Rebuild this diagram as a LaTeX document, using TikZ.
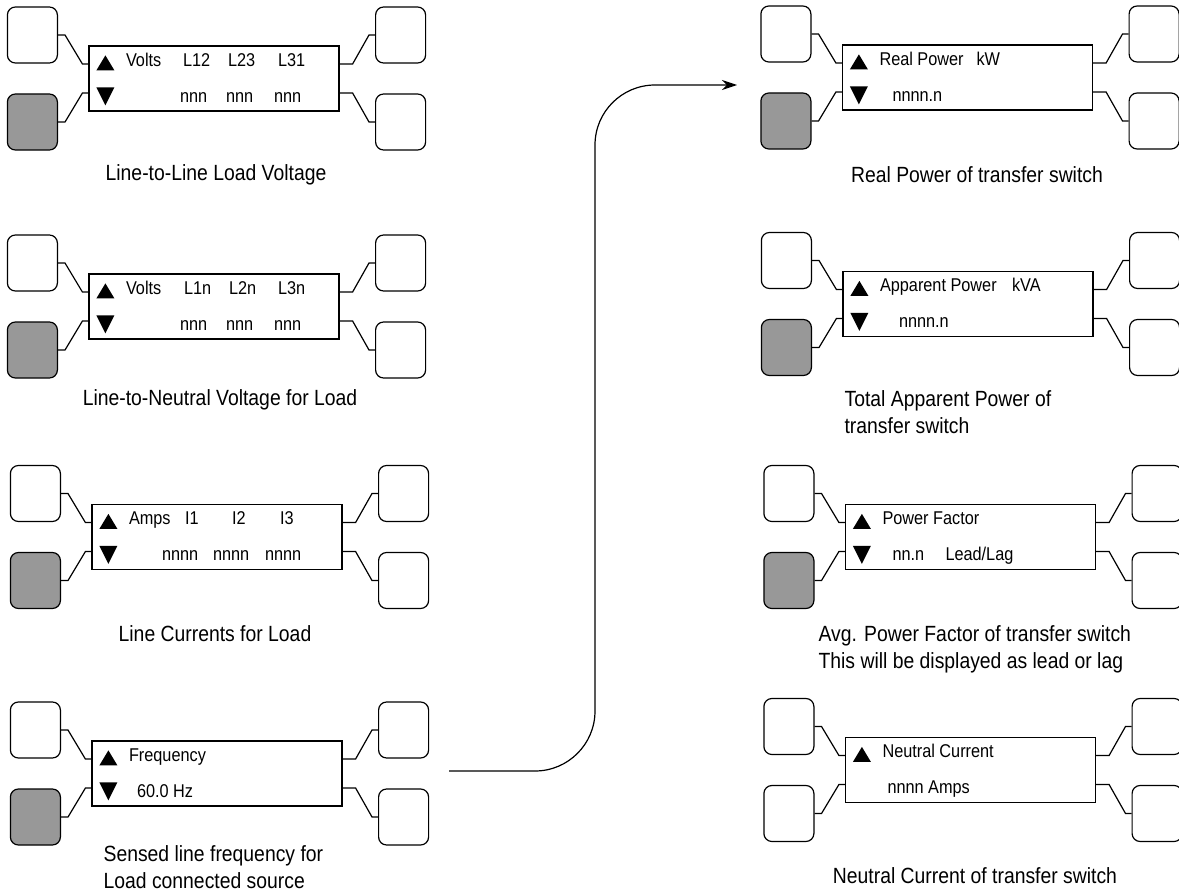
\documentclass[tikz,border=0pt]{standalone}
\usepackage{fontspec}
\setmainfont[FakeStretch=0.88]{Liberation Sans}
\usetikzlibrary{calc,arrows.meta}
\definecolor{keygrey}{RGB}{152,152,152}

% one display with its four soft keys
\newcommand\lcdpanel[3]{%
  \node[lcd] (#1) at (#2) {};
  \node[softkey] (#1tl) at ($(#1.west)+(-56,-43.5)$) {};
  \node[softkey,#3] (#1bl) at ($(#1.west)+(-56,43.5)$) {};
  \node[softkey] (#1tr) at ($(#1.east)+(61,-43.5)$) {};
  \node[softkey] (#1br) at ($(#1.east)+(61,43.5)$) {};
  \draw (#1tl.east) -- ++(7,0) -- ($(#1.west)+(-6,-14.5)$) -- ($(#1.west)+(0,-14.5)$);
  \draw (#1bl.east) -- ++(7,0) -- ($(#1.west)+(-6,14.5)$) -- ($(#1.west)+(0,14.5)$);
  \draw ($(#1.east)+(0,-14.5)$) -- ++(13,0) -- ($(#1tr.west)+(-6,0)$) -- (#1tr.west);
  \draw ($(#1.east)+(0,14.5)$) -- ++(13,0) -- ($(#1br.west)+(-6,0)$) -- (#1br.west);
  \fill ($(#1.north west)+(8,25)$) -- ++(18,0) -- ++(-9,-15) -- cycle;
}
\newcommand\downmark[1]{\fill ($(#1.north west)+(8,42)$) -- ++(18,0) -- ++(-9,18) -- cycle;}

\begin{document}
\begin{tikzpicture}[x=1pt,y=-1pt,line width=1.2pt,
    lcd/.style={draw,minimum width=250pt,minimum height=65pt,inner sep=0},
    softkey/.style={draw,rounded corners=8pt,minimum width=50pt,minimum height=56pt,inner sep=0},
    keyon/.style={fill=keygrey},
    lcdtext/.style={anchor=base west,inner sep=0,font=\fontsize{18.5}{20}\selectfont},
    caption/.style={anchor=base,inner sep=0,font=\fontsize{22}{27}\selectfont,align=left}]
  \useasboundingbox (0,0) rectangle (1179,891);

  % left column
  \lcdpanel{lv}{214,78.5}{keyon} \downmark{lv}
  \node[lcdtext] (lv1) at ($(lv.north west)+(37,21)$) {Volts};
  \node[lcdtext] (lv2) at ($(lv.north west)+(94,21)$) {L12};
  \node[lcdtext] (lv3) at ($(lv.north west)+(139,21)$) {L23};
  \node[lcdtext] (lv4) at ($(lv.north west)+(189,21)$) {L31};
  \node[lcdtext] (lv5) at ($(lv.north west)+(91,57)$) {nnn};
  \node[lcdtext] (lv6) at ($(lv.north west)+(137,57)$) {nnn};
  \node[lcdtext] (lv7) at ($(lv.north west)+(185,57)$) {nnn};
  \node[caption] (lvcap) at (216,180) {Line-to-Line Load Voltage};

  \lcdpanel{nv}{214,306.5}{keyon} \downmark{nv}
  \node[lcdtext] (nv1) at ($(nv.north west)+(37,21)$) {Volts};
  \node[lcdtext] (nv2) at ($(nv.north west)+(95,21)$) {L1n};
  \node[lcdtext] (nv3) at ($(nv.north west)+(140,21)$) {L2n};
  \node[lcdtext] (nv4) at ($(nv.north west)+(189,21)$) {L3n};
  \node[lcdtext] (nv5) at ($(nv.north west)+(91,57)$) {nnn};
  \node[lcdtext] (nv6) at ($(nv.north west)+(137,57)$) {nnn};
  \node[lcdtext] (nv7) at ($(nv.north west)+(185,57)$) {nnn};
  \node[caption] (nvcap) at (220,405) {Line-to-Neutral Voltage for Load};

  \lcdpanel{amps}{217,537}{keyon} \downmark{amps}
  \node[lcdtext] (amps1) at ($(amps.north west)+(37,21)$) {Amps};
  \node[lcdtext] (amps2) at ($(amps.north west)+(93,21)$) {I1};
  \node[lcdtext] (amps3) at ($(amps.north west)+(140,21)$) {I2};
  \node[lcdtext] (amps4) at ($(amps.north west)+(188,21)$) {I3};
  \node[lcdtext] (amps5) at ($(amps.north west)+(70,57)$) {nnnn};
  \node[lcdtext] (amps6) at ($(amps.north west)+(121,57)$) {nnnn};
  \node[lcdtext] (amps7) at ($(amps.north west)+(173,57)$) {nnnn};
  \node[caption] (ampscap) at (215,641) {Line Currents for Load};

  \lcdpanel{freq}{217,773.5}{keyon} \downmark{freq}
  \node[lcdtext] (freq1) at ($(freq.north west)+(37,21)$) {Frequency};
  \node[lcdtext] (freq2) at ($(freq.north west)+(45,57)$) {60.0 Hz};
  \node[caption,anchor=base west] (freqcap) at (103,888) {Sensed line frequency for\\Load connected source};

  % right column
  \lcdpanel{kw}{967.5,77.5}{keyon} \downmark{kw}
  \node[lcdtext] (kw1) at ($(kw.north west)+(37,21)$) {Real Power};
  \node[lcdtext] (kw2) at ($(kw.north west)+(134,21)$) {kW};
  \node[lcdtext] (kw3) at ($(kw.north west)+(50,57)$) {nnnn.n};
  \node[caption] (kwcap) at (977,182) {Real Power of transfer switch};

  \lcdpanel{kva}{968,304}{keyon} \downmark{kva}
  \node[lcdtext] (kva1) at ($(kva.north west)+(37,21)$) {Apparent Power};
  \node[lcdtext] (kva2) at ($(kva.north west)+(169,21)$) {kVA};
  \node[lcdtext] (kva3) at ($(kva.north west)+(56,57)$) {nnnn.n};
  \node[caption,anchor=base west] (kvacap) at (844,433) {Total Apparent Power of\\transfer switch};

  \lcdpanel{pf}{970.5,537}{keyon} \downmark{pf}
  \node[lcdtext] (pf1) at ($(pf.north west)+(37,21)$) {Power Factor};
  \node[lcdtext] (pf2) at ($(pf.north west)+(47,57)$) {nn.n};
  \node[lcdtext] (pf3) at ($(pf.north west)+(100,57)$) {Lead/Lag};
  \node[caption,anchor=base west] (pfcap) at (818,668) {Avg. Power Factor of transfer switch\\This will be displayed as lead or lag};

  \lcdpanel{neut}{970.5,770}{}
  \node[lcdtext] (neut1) at ($(neut.north west)+(37,21)$) {Neutral Current};
  \node[lcdtext] (neut2) at ($(neut.north west)+(42,57)$) {nnnn Amps};
  \node[caption] (neutcap) at (975,883) {Neutral Current of transfer switch};

  % from the frequency screen over to the power screens
  \coordinate (go) at (449,771);
  \coordinate (to) at (737,85);
  \draw[-{Stealth[length=15pt,width=10pt]},rounded corners=60pt] (go) -| ([xshift=-142pt]to) -- (to);
\end{tikzpicture}
\end{document}
